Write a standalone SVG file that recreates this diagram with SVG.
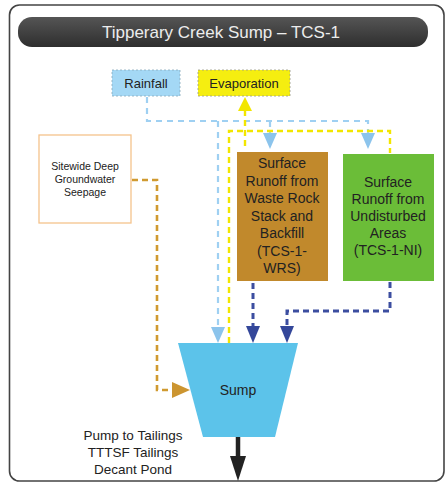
<svg xmlns="http://www.w3.org/2000/svg" width="446" height="484" viewBox="0 0 446 484">
<defs>
<style>
text{font-family:"Liberation Sans",Arial,sans-serif;text-anchor:middle;fill:#222}
.lb{fill:none;stroke:#9fd0f2;stroke-width:2.2;stroke-dasharray:6,5}
.yl{fill:none;stroke:#f2e600;stroke-width:2.4;stroke-dasharray:6,4}
.db{fill:none;stroke:#3c4ea0;stroke-width:3;stroke-dasharray:6,4}
.or{fill:none;stroke:#d09a30;stroke-width:2.6;stroke-dasharray:6,4}
</style>
<linearGradient id="tg" x1="0" y1="0" x2="0" y2="1">
<stop offset="0" stop-color="#555"/><stop offset="1" stop-color="#2e2e2e"/>
</linearGradient>
</defs>
<rect x="0" y="0" width="446" height="484" fill="#fff"/>
<rect id="frame" x="9.5" y="5" width="434.5" height="476" rx="10" fill="#fff" stroke="#444" stroke-width="1.6"/>
<g id="title">
<rect x="18" y="17" width="410" height="30" rx="14" fill="url(#tg)"/>
<text x="221" y="38" font-size="17" style="fill:#ececec">Tipperary Creek Sump – TCS-1</text>
</g>
<g id="connectors">
<polyline class="lb" points="147,97 147,121 368,121 368,140"/>
<line class="lb" x1="270" y1="121" x2="270" y2="140"/>
<line class="lb" x1="218" y1="121" x2="218" y2="328"/>
<polygon points="263,133 277,133 270,149" fill="#8cc4ec"/>
<polygon points="361,133 375,133 368,149" fill="#8cc4ec"/>
<polygon points="211,327 225,327 218,343" fill="#8cc4ec"/>
<polyline class="yl" points="229,343 229,131 390,131 390,153"/>
<line class="yl" x1="245" y1="110" x2="245" y2="150"/>
<polygon points="238,111 252,111 245,97" fill="#f2e600"/>
<polyline class="or" points="132,180 157,180 157,390 172,390"/>
<polygon points="172,382 172,398 190,390" fill="#cc9530"/>
<line class="db" x1="253" y1="283" x2="253" y2="328"/>
<polyline class="db" points="390,282 390,311 287,311 287,328"/>
<polygon points="246,326 260,326 253,343" fill="#34479a"/>
<polygon points="280,326 294,326 287,343" fill="#34479a"/>
<line x1="238" y1="437" x2="238" y2="458" stroke="#222" stroke-width="4.5"/>
<polygon points="230,456 246,456 238,481" fill="#222"/>
</g>
<g id="rainfall">
<rect x="112" y="70" width="68" height="26" fill="#a4d8f5" stroke="#8ab" stroke-width="0.8" stroke-dasharray="2,2"/>
<text x="146" y="88" font-size="13">Rainfall</text>
</g>
<g id="evaporation">
<rect x="198" y="70" width="92" height="26" fill="#f5ee10" stroke="#998" stroke-width="0.8" stroke-dasharray="2,2"/>
<text x="244" y="88" font-size="13">Evaporation</text>
</g>
<g id="seepage">
<rect x="39" y="135" width="92" height="88" fill="#fff" stroke="#f5c38c" stroke-width="1.3"/>
<text x="85" y="170" font-size="10.5">Sitewide Deep</text>
<text x="85" y="183" font-size="10.5">Groundwater</text>
<text x="85" y="196" font-size="10.5">Seepage</text>
</g>
<g id="wrs">
<rect x="237" y="152" width="91" height="129" fill="#c1892c"/>
<g font-size="14">
<text x="282" y="168">Surface</text>
<text x="282" y="185.5">Runoff from</text>
<text x="282" y="203">Waste Rock</text>
<text x="282" y="220.5">Stack and</text>
<text x="282" y="238">Backfill</text>
<text x="282" y="255.5">(TCS-1-</text>
<text x="282" y="273">WRS)</text>
</g>
</g>
<g id="ni">
<rect x="343" y="154" width="91" height="127" fill="#6bbd38"/>
<g font-size="14">
<text x="388" y="187">Surface</text>
<text x="388" y="204">Runoff from</text>
<text x="388" y="221">Undisturbed</text>
<text x="388" y="238">Areas</text>
<text x="388" y="255">(TCS-1-NI)</text>
</g>
</g>
<g id="sump">
<polygon points="178,343 298,343 275,437 203,437" fill="#5cc3ea"/>
<text x="238" y="395" font-size="14">Sump</text>
</g>
<g id="output-label">
<text x="133" y="440" font-size="13.5">Pump to Tailings</text>
<text x="133" y="457" font-size="13.5">TTTSF Tailings</text>
<text x="133" y="474" font-size="13.5">Decant Pond</text>
</g>
</svg>
